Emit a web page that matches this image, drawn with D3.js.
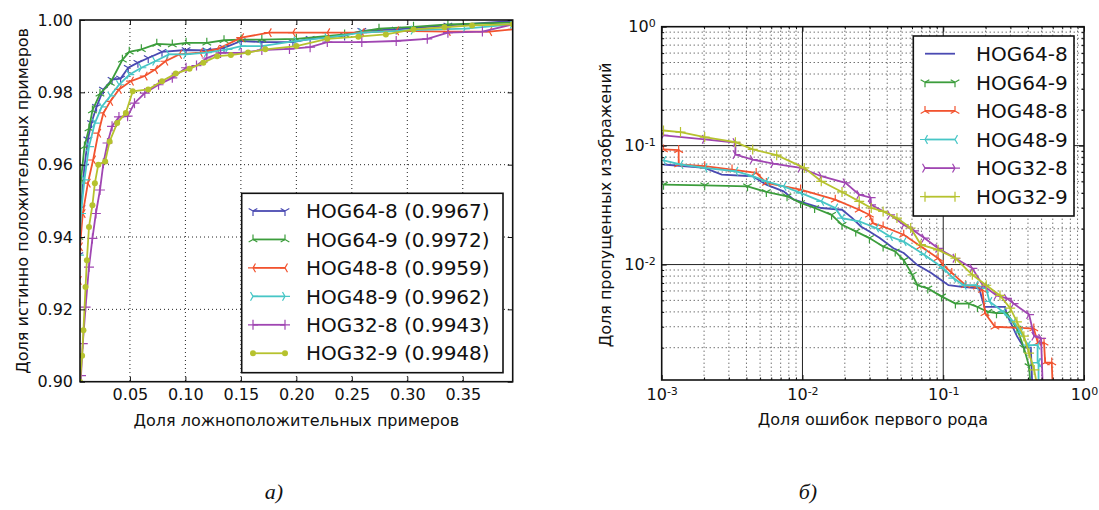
<!DOCTYPE html>
<html>
<head>
<meta charset="utf-8">
<script src="https://cdn.jsdelivr.net/npm/d3@7"></script>
<style>
body { margin:0; background:#fff; }
svg text { font-family:"DejaVu Sans", sans-serif; fill:#111; }
.frame { fill:none; stroke:#111; stroke-width:1.6; }
.axis path.domain { display:none; }
.axis line { stroke:#111; stroke-width:1; }
</style>
</head>
<body>
<script>
var names = ["HOG64-8","HOG64-9","HOG48-8","HOG48-9","HOG32-8","HOG32-9"];
var aucLabels = ["0.9967","0.9972","0.9959","0.9962","0.9943","0.9948"];
var colors = ["#4a4ab2","#3c9d3c","#f2532f","#47c6c6","#a046b2","#b6c22e"];
var rocMarkers = ["tri_down","tri_up","tri_left","tri_right","plus","dot"];
var detMarkers = ["none","tri_down","tri_up","tri_left","tri_right","plus"];
var rocXTicks = [0.05,0.10,0.15,0.20,0.25,0.30,0.35];
var rocYTicks = [0.90,0.92,0.94,0.96,0.98,1.00];
var detTicks = [0.001,0.01,0.1,1];

// ROC: [false positive rate, true positive rate]
var roc64_8 = [[0.004,0.935],[0.0059,0.948],[0.009,0.9595],[0.0121,0.967],[0.0153,0.9715],[0.0199,0.976],[0.0261,0.9808],[0.0339,0.9835],[0.0416,0.9838],[0.0485,0.9868],[0.0572,0.9882],[0.0665,0.9895],[0.0789,0.9912],[0.1006,0.9917],[0.1193,0.9916],[0.1348,0.9923],[0.1503,0.9942],[0.1689,0.9939],[0.1969,0.9939],[0.2124,0.9948],[0.2435,0.9957],[0.259,0.997],[0.29,0.9974],[0.3366,0.9985],[0.395,0.9997]];
var roc64_9 = [[0.004,0.94],[0.0059,0.9558],[0.009,0.965],[0.0131,0.97],[0.0162,0.975],[0.023,0.9796],[0.0323,0.9826],[0.0432,0.989],[0.0494,0.9912],[0.0603,0.9919],[0.0742,0.9934],[0.0882,0.9932],[0.1006,0.9937],[0.1193,0.9937],[0.1348,0.9944],[0.1503,0.9946],[0.1689,0.9946],[0.2,0.9948],[0.2435,0.996],[0.2745,0.9976],[0.3056,0.9981],[0.3366,0.9988],[0.395,0.9993]];
var roc48_8 = [[0.004,0.928],[0.005,0.9373],[0.0075,0.9465],[0.0121,0.9549],[0.0168,0.9613],[0.0215,0.9687],[0.0261,0.9743],[0.0323,0.9775],[0.0401,0.9808],[0.051,0.9831],[0.0634,0.9845],[0.0727,0.9863],[0.082,0.9886],[0.0944,0.9905],[0.1131,0.991],[0.1286,0.9919],[0.1503,0.9951],[0.1752,0.9965],[0.1969,0.9965],[0.2279,0.9965],[0.259,0.9965],[0.29,0.997],[0.3366,0.9968],[0.3739,0.9968],[0.395,0.9974]];
var roc48_9 = [[0.004,0.935],[0.0059,0.9465],[0.009,0.9558],[0.0131,0.965],[0.0184,0.9715],[0.0246,0.976],[0.0323,0.979],[0.0401,0.9821],[0.0494,0.9849],[0.0603,0.9868],[0.0727,0.9886],[0.0851,0.9905],[0.1006,0.9905],[0.1193,0.991],[0.1379,0.9919],[0.1503,0.9928],[0.1689,0.9928],[0.2,0.9942],[0.2279,0.9951],[0.259,0.9965],[0.3056,0.9972],[0.3521,0.9976],[0.395,0.9988]];
var roc32_8 = [[0.005,0.899],[0.0059,0.9017],[0.0075,0.9105],[0.01,0.9206],[0.0131,0.9317],[0.0162,0.9396],[0.0193,0.9465],[0.023,0.953],[0.0261,0.9604],[0.0298,0.966],[0.0339,0.9706],[0.0401,0.9732],[0.0479,0.9734],[0.0541,0.977],[0.0634,0.9798],[0.0758,0.9821],[0.0882,0.984],[0.1006,0.9868],[0.11,0.9874],[0.1193,0.9895],[0.1317,0.9909],[0.1503,0.9909],[0.1689,0.9917],[0.1938,0.992],[0.2124,0.9925],[0.2279,0.9939],[0.259,0.9939],[0.29,0.9942],[0.318,0.9948],[0.3366,0.9965],[0.3677,0.9968],[0.395,0.9988]];
var roc32_9 = [[0.005,0.9],[0.0069,0.9072],[0.0081,0.9142],[0.01,0.9262],[0.0112,0.9336],[0.0131,0.9428],[0.0162,0.9488],[0.0184,0.9549],[0.0215,0.96],[0.0277,0.9609],[0.0317,0.9664],[0.0385,0.9715],[0.0463,0.9743],[0.0525,0.9803],[0.0665,0.9808],[0.0789,0.9831],[0.0913,0.9852],[0.1037,0.9865],[0.1162,0.9882],[0.1286,0.99],[0.141,0.9903],[0.1565,0.991],[0.172,0.9919],[0.2,0.9928],[0.2279,0.9948],[0.2559,0.9954],[0.2807,0.996],[0.3056,0.9974],[0.3335,0.998],[0.3584,0.9985],[0.395,0.9988]];

// DET: [false positive rate, miss rate]
var det64_8 = [[0.00103,0.0694],[0.00202,0.065],[0.00267,0.0571],[0.00443,0.0553],[0.00554,0.047],[0.00734,0.0413],[0.00869,0.0351],[0.0103,0.033],[0.0136,0.0299],[0.0191,0.0289],[0.0226,0.0246],[0.026,0.0209],[0.0299,0.019],[0.0354,0.0167],[0.0443,0.0137],[0.0524,0.0125],[0.0656,0.0099],[0.0822,0.0085],[0.1,0.0072],[0.109,0.0067],[0.136,0.0065],[0.18,0.0063],[0.196,0.0044],[0.275,0.0044],[0.283,0.0038],[0.334,0.0025],[0.374,0.002],[0.419,0.002],[0.43,0.0009]];
var det64_9 = [[0.00103,0.047],[0.00202,0.0464],[0.00407,0.0455],[0.00554,0.0408],[0.00777,0.0375],[0.0097,0.033],[0.0122,0.0299],[0.0161,0.0262],[0.0191,0.0216],[0.0239,0.019],[0.0299,0.0167],[0.0374,0.0142],[0.0456,0.0129],[0.0524,0.0109],[0.0603,0.0082],[0.0656,0.0067],[0.0777,0.0063],[0.0972,0.0054],[0.122,0.0047],[0.152,0.0047],[0.175,0.0044],[0.2075,0.004],[0.239,0.0039],[0.283,0.0039],[0.334,0.0029],[0.374,0.002],[0.407,0.0014],[0.419,0.0009]];
var det48_8 = [[0.00103,0.0929],[0.00132,0.0917],[0.00132,0.0694],[0.00202,0.0672],[0.00316,0.0629],[0.00469,0.059],[0.00554,0.0486],[0.0097,0.0427],[0.0171,0.0351],[0.0253,0.0289],[0.0299,0.0262],[0.0316,0.0223],[0.0374,0.0209],[0.0524,0.0178],[0.0694,0.0142],[0.0919,0.0113],[0.1,0.0099],[0.115,0.0085],[0.144,0.0067],[0.175,0.0065],[0.19,0.0061],[0.198,0.0039],[0.233,0.003],[0.44,0.0029],[0.47,0.0022],[0.52,0.0022],[0.53,0.0015],[0.59,0.0015],[0.6,0.0009]];
var det48_9 = [[0.00103,0.075],[0.00136,0.0694],[0.00202,0.065],[0.00334,0.0609],[0.00443,0.0553],[0.00554,0.0501],[0.00734,0.0455],[0.0097,0.04],[0.0136,0.034],[0.0171,0.0299],[0.0191,0.0246],[0.0253,0.0231],[0.0334,0.0203],[0.0419,0.0172],[0.0524,0.0156],[0.0734,0.0121],[0.1,0.0093],[0.118,0.0077],[0.14,0.0067],[0.17,0.0067],[0.202,0.0063],[0.213,0.0049],[0.267,0.004],[0.316,0.0033],[0.354,0.0027],[0.4,0.0021],[0.468,0.0021],[0.468,0.0015],[0.475,0.0015],[0.476,0.0009]];
var det32_8 = [[0.00103,0.122],[0.00202,0.113],[0.00334,0.106],[0.00334,0.0842],[0.00443,0.0764],[0.0062,0.0707],[0.0097,0.065],[0.0136,0.0553],[0.0202,0.0486],[0.0253,0.0387],[0.0305,0.0365],[0.0307,0.0318],[0.0419,0.0262],[0.0524,0.0216],[0.062,0.0192],[0.0734,0.0167],[0.0919,0.0137],[0.122,0.0113],[0.161,0.0093],[0.191,0.0067],[0.239,0.0055],[0.283,0.0052],[0.316,0.0047],[0.407,0.0038],[0.443,0.0025],[0.4955,0.0024],[0.51,0.0009]];
var det32_9 = [[0.00103,0.134],[0.00136,0.13],[0.00202,0.118],[0.00334,0.107],[0.00443,0.0929],[0.00656,0.0832],[0.0103,0.065],[0.0136,0.0501],[0.0191,0.0408],[0.0253,0.034],[0.0308,0.0299],[0.0374,0.028],[0.0469,0.0246],[0.0587,0.0203],[0.0694,0.0147],[0.0919,0.0133],[0.122,0.0113],[0.161,0.0082],[0.202,0.0067],[0.253,0.0055],[0.299,0.0043],[0.334,0.0033],[0.374,0.0025],[0.407,0.0018],[0.443,0.0013],[0.4685,0.0009]];

var rocSeries = [roc64_8,roc64_9,roc48_8,roc48_9,roc32_8,roc32_9];
var detSeries = [det64_8,det64_9,det48_8,det48_9,det32_8,det32_9];

var svg = d3.select("body").append("svg").attr("width",1099).attr("height",510);

function markerPath(type,s){
  var a = s*0.866, b = s*0.5;
  if(type=="tri_down") return "M0,0V"+s+"M0,0L"+(-a)+","+(-b)+"M0,0L"+a+","+(-b);
  if(type=="tri_up") return "M0,0V"+(-s)+"M0,0L"+(-a)+","+b+"M0,0L"+a+","+b;
  if(type=="tri_left") return "M0,0H"+(-s)+"M0,0L"+b+","+(-a)+"M0,0L"+b+","+a;
  if(type=="tri_right") return "M0,0H"+s+"M0,0L"+(-b)+","+(-a)+"M0,0L"+(-b)+","+a;
  if(type=="plus") return "M"+(-s)+",0H"+s+"M0,"+(-s)+"V"+s;
  return null;
}

function drawMarkers(g,pts,type,color){
  if(type=="none") return;
  if(type=="dot"){
    g.selectAll(null).data(pts).enter().append("circle")
      .attr("cx",function(d){return d[0];}).attr("cy",function(d){return d[1];})
      .attr("r",3).attr("fill",color);
    return;
  }
  g.selectAll(null).data(pts).enter().append("path")
    .attr("d",markerPath(type,5))
    .attr("transform",function(d){return "translate("+d[0]+","+d[1]+")";})
    .attr("fill","none").attr("stroke",color).attr("stroke-width",1.2);
}

function drawLegend(g,x0,y0,w,h,rowY,rowStep,lineX0,lineX1,textX,labels,markers){
  g.append("rect").attr("x",x0).attr("y",y0).attr("width",w).attr("height",h)
    .attr("fill","#fff").attr("stroke","#111").attr("stroke-width",1.6);
  labels.forEach(function(lab,i){
    var yy = rowY + i*rowStep;
    g.append("line").attr("x1",lineX0).attr("x2",lineX1).attr("y1",yy).attr("y2",yy)
      .attr("stroke",colors[i]).attr("stroke-width",1.8);
    drawMarkers(g,[[lineX0,yy],[lineX1,yy]],markers[i],colors[i]);
    g.append("text").attr("x",textX).attr("y",yy).attr("dy","0.36em")
      .style("font-size","20px").text(lab);
  });
}

// ---------- chart a) ROC ----------
var L = {left:80, top:20, width:432.7, height:361.7};
var xa = d3.scaleLinear().domain([0.005,0.395]).range([0,L.width]);
var ya = d3.scaleLinear().domain([0.90,1.00]).range([L.height,0]);
var ga = svg.append("g").attr("transform","translate("+L.left+","+L.top+")");

ga.append("clipPath").attr("id","clipA").append("rect").attr("width",L.width).attr("height",L.height);

ga.append("g").selectAll("line").data(rocXTicks).enter().append("line")
  .attr("x1",function(d){return xa(d);}).attr("x2",function(d){return xa(d);})
  .attr("y1",0).attr("y2",L.height)
  .attr("stroke","#222").attr("stroke-width",1).attr("stroke-dasharray","1,3");
ga.append("g").selectAll("line").data(rocYTicks.slice(1,5)).enter().append("line")
  .attr("y1",function(d){return ya(d);}).attr("y2",function(d){return ya(d);})
  .attr("x1",0).attr("x2",L.width)
  .attr("stroke","#222").attr("stroke-width",1).attr("stroke-dasharray","1,3");

var lineA = d3.line().x(function(d){return xa(d[0]);}).y(function(d){return ya(d[1]);});
var curvesA = ga.append("g").attr("clip-path","url(#clipA)");
rocSeries.forEach(function(s,i){
  curvesA.append("path").attr("d",lineA(s)).attr("fill","none")
    .attr("stroke",colors[i]).attr("stroke-width",1.8);
  drawMarkers(curvesA, s.map(function(d){return [xa(d[0]),ya(d[1])];}), rocMarkers[i], colors[i]);
});

ga.append("g").attr("class","axis").attr("transform","translate(0,"+L.height+")")
  .call(d3.axisBottom(xa).tickValues(rocXTicks).tickFormat(d3.format(".2f")).tickSizeInner(-5).tickSizeOuter(0).tickPadding(7))
  .selectAll("text").style("font-size","16px");
ga.append("g").attr("class","axis")
  .call(d3.axisTop(xa).tickValues(rocXTicks).tickFormat("").tickSizeInner(-5).tickSizeOuter(0));
ga.append("g").attr("class","axis")
  .call(d3.axisLeft(ya).tickValues(rocYTicks).tickFormat(d3.format(".2f")).tickSizeInner(-5).tickSizeOuter(0).tickPadding(7))
  .selectAll("text").style("font-size","16px");
ga.append("g").attr("class","axis").attr("transform","translate("+L.width+",0)")
  .call(d3.axisRight(ya).tickValues(rocYTicks).tickFormat("").tickSizeInner(-5).tickSizeOuter(0));

ga.append("rect").attr("class","frame").attr("width",L.width).attr("height",L.height);

drawLegend(svg,241.7,193.3,261.3,179.4,211,28.45,253,285,306,
  names.map(function(n,i){return n+" ("+aucLabels[i]+")";}), rocMarkers);

svg.append("text").attr("x",L.left+L.width/2).attr("y",426).attr("text-anchor","middle")
  .style("font-size","16px").text("Доля ложноположительных примеров");
svg.append("text").attr("transform","translate(28,"+(L.top+L.height/2)+") rotate(-90)")
  .attr("text-anchor","middle").style("font-size","16px").text("Доля истинно положительных примеров");

// ---------- chart б) DET ----------
var R = {left:661.7, top:26.7, width:422.3, height:353.3};
var xb = d3.scaleLog().domain([0.001,1]).range([0,R.width]);
var yb = d3.scaleLog().domain([0.00107,1]).range([R.height,0]);
var gb = svg.append("g").attr("transform","translate("+R.left+","+R.top+")");

gb.append("clipPath").attr("id","clipB").append("rect").attr("width",R.width).attr("height",R.height);

var xMinor = xb.ticks().filter(function(d){return detTicks.indexOf(d)<0;});
var yMinor = yb.ticks().filter(function(d){return detTicks.indexOf(d)<0;});

gb.append("g").selectAll("line").data(xMinor).enter().append("line")
  .attr("x1",function(d){return xb(d);}).attr("x2",function(d){return xb(d);})
  .attr("y1",0).attr("y2",R.height)
  .attr("stroke","#333").attr("stroke-width",1).attr("stroke-dasharray","1,3");
gb.append("g").selectAll("line").data(yMinor).enter().append("line")
  .attr("y1",function(d){return yb(d);}).attr("y2",function(d){return yb(d);})
  .attr("x1",0).attr("x2",R.width)
  .attr("stroke","#333").attr("stroke-width",1).attr("stroke-dasharray","1,3");
gb.append("g").selectAll("line").data([0.01,0.1]).enter().append("line")
  .attr("x1",function(d){return xb(d);}).attr("x2",function(d){return xb(d);})
  .attr("y1",0).attr("y2",R.height).attr("stroke","#222").attr("stroke-width",1);
gb.append("g").selectAll("line").data([0.01,0.1]).enter().append("line")
  .attr("y1",function(d){return yb(d);}).attr("y2",function(d){return yb(d);})
  .attr("x1",0).attr("x2",R.width).attr("stroke","#222").attr("stroke-width",1);

var lineB = d3.line().x(function(d){return xb(d[0]);}).y(function(d){return yb(d[1]);});
var curvesB = gb.append("g").attr("clip-path","url(#clipB)");
detSeries.forEach(function(s,i){
  curvesB.append("path").attr("d",lineB(s)).attr("fill","none")
    .attr("stroke",colors[i]).attr("stroke-width",1.8);
  drawMarkers(curvesB, s.map(function(d){return [xb(d[0]),yb(d[1])];}), detMarkers[i], colors[i]);
});

function powLabels(sel){
  sel.selectAll(".tick text").each(function(d){
    var t = d3.select(this);
    t.text(null).style("font-size","16px");
    t.append("tspan").text("10");
    t.append("tspan").attr("dy","-0.5em").style("font-size","11px").text(Math.round(Math.log10(d)));
  });
}

gb.append("g").attr("class","axis").attr("transform","translate(0,"+R.height+")")
  .call(d3.axisBottom(xb).tickValues(detTicks).tickSizeInner(-5).tickSizeOuter(0).tickPadding(9))
  .call(powLabels);
gb.append("g").attr("class","axis").attr("transform","translate(0,"+R.height+")")
  .call(d3.axisBottom(xb).tickValues(xMinor).tickFormat("").tickSizeInner(-2.5).tickSizeOuter(0));
gb.append("g").attr("class","axis")
  .call(d3.axisTop(xb).tickValues(detTicks).tickFormat("").tickSizeInner(-5).tickSizeOuter(0));
gb.append("g").attr("class","axis")
  .call(d3.axisTop(xb).tickValues(xMinor).tickFormat("").tickSizeInner(-2.5).tickSizeOuter(0));
gb.append("g").attr("class","axis")
  .call(d3.axisLeft(yb).tickValues(detTicks.slice(1)).tickSizeInner(-5).tickSizeOuter(0).tickPadding(6))
  .call(powLabels);
gb.append("g").attr("class","axis")
  .call(d3.axisLeft(yb).tickValues(yMinor).tickFormat("").tickSizeInner(-2.5).tickSizeOuter(0));
gb.append("g").attr("class","axis").attr("transform","translate("+R.width+",0)")
  .call(d3.axisRight(yb).tickValues(detTicks.slice(1)).tickFormat("").tickSizeInner(-5).tickSizeOuter(0));
gb.append("g").attr("class","axis").attr("transform","translate("+R.width+",0)")
  .call(d3.axisRight(yb).tickValues(yMinor).tickFormat("").tickSizeInner(-2.5).tickSizeOuter(0));

gb.append("rect").attr("class","frame").attr("width",R.width).attr("height",R.height);

drawLegend(svg,913.3,36,160.7,180,53.7,28.6,925,955,976,names,detMarkers);

svg.append("text").attr("x",R.left+R.width/2).attr("y",425).attr("text-anchor","middle")
  .style("font-size","16px").text("Доля ошибок первого рода");
svg.append("text").attr("transform","translate(611,205) rotate(-90)")
  .attr("text-anchor","middle").style("font-size","16px").text("Доля пропущенных изображений");

// captions
svg.append("text").attr("x",274).attr("y",499).attr("text-anchor","middle")
  .style("font-family","'Liberation Serif', serif").style("font-style","italic").style("font-size","22px").text("а)");
svg.append("text").attr("x",808).attr("y",499).attr("text-anchor","middle")
  .style("font-family","'Liberation Serif', serif").style("font-style","italic").style("font-size","22px").text("б)");
</script>
</body>
</html>
